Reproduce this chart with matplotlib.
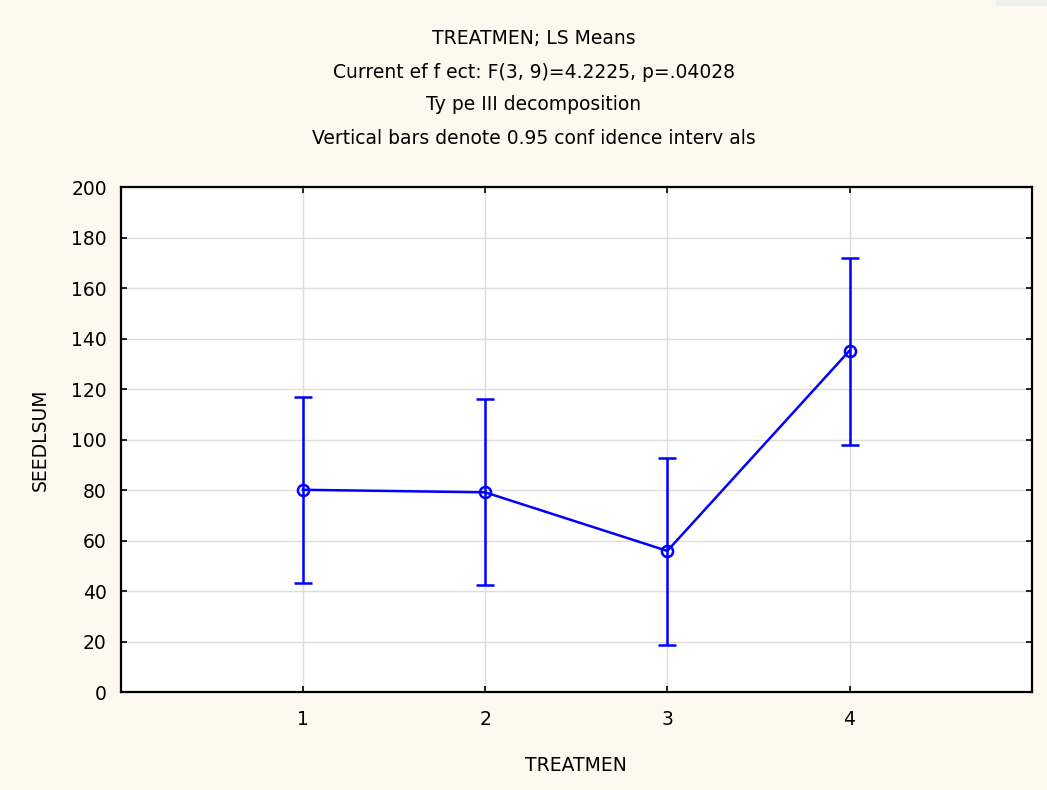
import matplotlib
matplotlib.use("Agg")
import matplotlib.pyplot as plt
from matplotlib.patches import Rectangle

plt.rcParams['font.family'] = ['DejaVu Sans']

treatments = [1, 2, 3, 4]
means = [80.2, 79.2, 56.0, 135.3]
upper = [117.1, 116.1, 92.6, 171.9]
lower = [43.4, 42.3, 18.8, 98.0]
title_lines = [
    "TREATMEN; LS Means",
    "Current ef f ect: F(3, 9)=4.2225, p=.04028",
    "Ty pe III decomposition",
    "Vertical bars denote 0.95 conf idence interv als",
]
yticks = list(range(0, 201, 20))

W, H = 1047, 790
fig = plt.figure(figsize=(W / 100, H / 100), dpi=100)
bg = '#FEF9EE'
fig.patch.set_facecolor(bg)
fig.patches.append(Rectangle((996 / W, 1 - 6 / H), 51 / W, 6 / H,
                             transform=fig.transFigure, facecolor='#EFEFEF',
                             edgecolor='none', zorder=0))

ax = fig.add_axes([120.7 / W, 1 - 692.3 / H, (1031.7 - 120.7) / W, (692.3 - 187.3) / H])
ax.set_facecolor('white')

yerr = [[m - l for m, l in zip(means, lower)], [u - m for m, u in zip(means, upper)]]
ax.errorbar(treatments, means, yerr=yerr, color='#0000FF', lw=1.8,
            elinewidth=1.8, capsize=6.5, capthick=1.8, marker='o',
            markersize=8, markerfacecolor='none', markeredgecolor='#0000FF',
            markeredgewidth=1.8, zorder=3)

ax.set_xlim(0, 5)
ax.set_ylim(0, 200)
ax.set_xticks(treatments)
ax.set_yticks(yticks)
ax.grid(True, color='#DDDDDD', lw=1.0)
ax.set_axisbelow(True)
for s in ax.spines.values():
    s.set_linewidth(1.6)
    s.set_color('black')
fs = 13.5
ax.tick_params(direction='in', length=4, width=1.2, labelsize=fs,
               top=True, right=True, colors='black')
ax.tick_params(axis='y', pad=10)
ax.tick_params(axis='x', pad=13)

ax.set_xlabel("TREATMEN", fontsize=fs, labelpad=19)
ax.set_ylabel("SEEDLSUM", fontsize=fs, labelpad=15)

ys = [39, 72, 105, 138]
for t, y in zip(title_lines, ys):
    fig.text(534 / W, 1 - y / H, t, ha='center', va='center', fontsize=fs)

fig.savefig("out.png", dpi=100, facecolor=fig.get_facecolor())
